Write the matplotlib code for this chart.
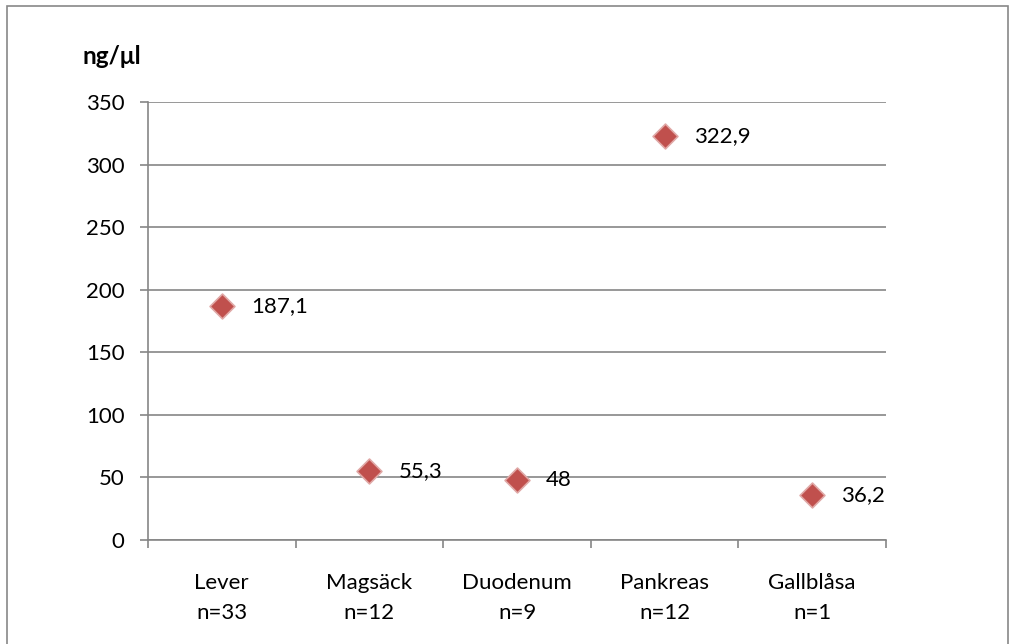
import matplotlib
matplotlib.use("Agg")
import matplotlib.pyplot as plt

categories = ["Lever\nn=33", "Magsäck\nn=12", "Duodenum\nn=9", "Pankreas\nn=12", "Gallblåsa\nn=1"]
values = [187.1, 55.3, 48.0, 322.9, 36.2]
value_labels = ["187,1", "55,3", "48", "322,9", "36,2"]
y_ticks = [0, 50, 100, 150, 200, 250, 300, 350]

plt.rcParams["font.family"] = ["Lato", "DejaVu Sans"]
FS = 16

fig = plt.figure(figsize=(10.16, 6.44), dpi=100)
ax = fig.add_axes([148 / 1016, 1 - 540 / 644, (886 - 148) / 1016, (540 - 102) / 644])

# outer chart frame
frame = plt.Rectangle((7 / 1016, -0.05), (1008 - 7) / 1016, 1 - 6 / 644 + 0.05,
                      transform=fig.transFigure, fill=False, edgecolor="#888888", lw=1.2)
fig.add_artist(frame)

x = list(range(len(categories)))
ax.scatter(x, values, marker="D", s=160, color="#C0504D", edgecolors="#E0A8A6",
           linewidths=1.2, zorder=3)
for xi, v, lab in zip(x, values, value_labels):
    ax.annotate(lab, (xi, v), xytext=(21, 0), textcoords="offset points",
                va="center", ha="left", fontsize=FS)

ax.set_xlim(-0.5, len(categories) - 0.5)
ax.set_ylim(0, 350)
ax.set_yticks(y_ticks)
ax.set_yticklabels([str(t) for t in y_ticks], fontsize=FS)
ax.yaxis.grid(True, color="#868686", lw=1.2)
ax.set_axisbelow(True)

ax.set_xticks([i - 0.5 for i in range(len(categories) + 1)])
ax.set_xticklabels([])
ax.set_xticks(x, minor=True)
ax.set_xticklabels(categories, minor=True, fontsize=FS, linespacing=1.6)
ax.tick_params(axis="x", which="minor", length=0, pad=24)
ax.tick_params(axis="x", which="major", length=6, color="#868686", width=1.2)
ax.tick_params(axis="y", length=6, color="#868686", width=1.2, pad=11)

for side in ("top", "right"):
    ax.spines[side].set_visible(False)
for side in ("left", "bottom"):
    ax.spines[side].set_color("#868686")
    ax.spines[side].set_linewidth(1.2)

fig.text(83 / 1016, 1 - 57 / 644, "ng/μl", fontsize=17.5, fontweight="bold",
         ha="left", va="center")

fig.savefig("out.png", dpi=100)
